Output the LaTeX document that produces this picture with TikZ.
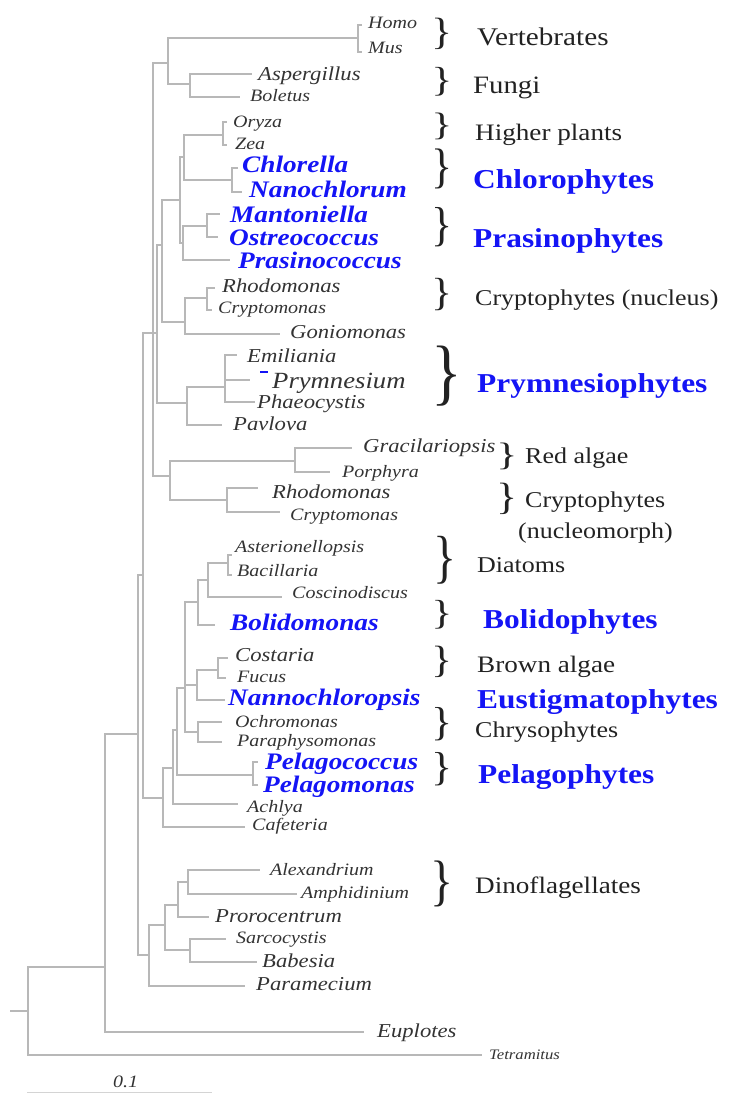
\documentclass[tikz,border=0pt]{standalone}
\usepackage{fontspec}
\setmainfont{Liberation Serif}
\usepackage{graphicx}
\definecolor{linegray}{HTML}{B8B8B8}
\definecolor{taxgray}{HTML}{333333}
\definecolor{grpblack}{HTML}{222222}
\definecolor{myblue}{RGB}{20,20,245}
\definecolor{scalegray}{HTML}{D4D4D4}
\newcommand\sx[1]{\scalebox{1.15}[1]{#1}}
\newcommand\brc[2]{\scalebox{#1}[#2]{\}}}
\begin{document}
\begin{tikzpicture}[x=1pt,y=-1pt,
  tree/.style={draw=linegray, line width=1.1pt},
  taxS/.style={anchor=base west, inner sep=0, text=taxgray, font=\fontsize{17.4}{18}\selectfont\itshape},
  taxL/.style={anchor=base west, inner sep=0, text=taxgray, font=\fontsize{19.7}{20}\selectfont\itshape},
  taxB/.style={anchor=base west, inner sep=0, text=myblue, font=\fontsize{23.7}{24}\selectfont\bfseries\itshape},
  grp/.style={anchor=base west, inner sep=0, text=grpblack, font=\fontsize{23.6}{24}\selectfont},
  grpS/.style={anchor=base west, inner sep=0, text=grpblack, font=\fontsize{22.6}{23}\selectfont},
  grpB/.style={anchor=base west, inner sep=0, text=myblue, font=\fontsize{27.3}{28}\selectfont\bfseries},
  brace/.style={anchor=center, inner sep=0, text=grpblack, font=\fontsize{40}{40}\selectfont}]
\useasboundingbox (0,0) rectangle (738,1095);

% ---------- internal nodes ----------
\coordinate (stub) at (10,1011);
\coordinate (R) at (28,1011);
\coordinate (A) at (105,967);
\coordinate (B) at (138,734);
\coordinate (C) at (143,575);
\coordinate (E) at (153,333);
\coordinate (VF) at (168,63);
\coordinate (V) at (358,38);
\coordinate (F) at (190,84);
\coordinate (P) at (157,333);
\coordinate (GC) at (162,245);
\coordinate (GR) at (180,200);
\coordinate (PC) at (184,157);
\coordinate (HP) at (223,135);
\coordinate (CH) at (232,180);
\coordinate (PRA) at (183,243);
\coordinate (MO) at (207,226);
\coordinate (CN) at (185,322);
\coordinate (RCN) at (207,298);
\coordinate (PR) at (187,403);
\coordinate (EPP) at (225,387);
\coordinate (RC) at (170,476);
\coordinate (RED) at (295,461);
\coordinate (CRN) at (227,500);
\coordinate (S) at (163,798);
\coordinate (H) at (173,768);
\coordinate (I) at (177,730);
\coordinate (J) at (185,688);
\coordinate (DB) at (198,602);
\coordinate (DT) at (208,580);
\coordinate (AB) at (228,563);
\coordinate (BN) at (197,685);
\coordinate (CF) at (218,670);
\coordinate (CHR) at (198,732);
\coordinate (PEL) at (253,775);
\coordinate (D) at (149,955);
\coordinate (D2) at (165,925);
\coordinate (D3) at (178,905);
\coordinate (AA) at (188,882);
\coordinate (SB) at (190,950);

% ---------- tips ----------
\coordinate (tHomo) at (362,25);
\coordinate (tMus) at (362,52);
\coordinate (tAsp) at (252,74);
\coordinate (tBol) at (240,97);
\coordinate (tOry) at (227,122);
\coordinate (tZea) at (227,145);
\coordinate (tChl) at (238,168);
\coordinate (tNan) at (242,192);
\coordinate (tMan) at (220,214);
\coordinate (tOst) at (218,237);
\coordinate (tPra) at (230,260);
\coordinate (tRhoA) at (215,288);
\coordinate (tCryA) at (212,310);
\coordinate (tGon) at (280,334);
\coordinate (tEmi) at (237,355);
\coordinate (tPry) at (250,380);
\coordinate (tPha) at (255,402);
\coordinate (tPav) at (222,425);
\coordinate (tGra) at (352,448);
\coordinate (tPor) at (330,472);
\coordinate (tRhoB) at (258,488);
\coordinate (tCryB) at (280,512);
\coordinate (tAst) at (232,555);
\coordinate (tBac) at (232,575);
\coordinate (tCos) at (282,597);
\coordinate (tBoli) at (215,625);
\coordinate (tCost) at (228,658);
\coordinate (tFuc) at (226,678);
\coordinate (tNann) at (225,700);
\coordinate (tOch) at (222,722);
\coordinate (tPar) at (222,742);
\coordinate (tPelc) at (258,762);
\coordinate (tPelm) at (258,785);
\coordinate (tAch) at (238,804);
\coordinate (tCaf) at (245,827);
\coordinate (tAle) at (260,870);
\coordinate (tAmp) at (297,894);
\coordinate (tPro) at (209,917);
\coordinate (tSar) at (226,939);
\coordinate (tBab) at (257,962);
\coordinate (tPam) at (245,986);
\coordinate (tEup) at (364,1032);
\coordinate (tTet) at (482,1055);

% ---------- branches ----------
\draw[tree] (stub) -- (R);
\draw[tree] (R) |- (A);  \draw[tree] (R) |- (tTet);
\draw[tree] (A) |- (B);  \draw[tree] (A) |- (tEup);
\draw[tree] (B) |- (C);  \draw[tree] (B) |- (D);
\draw[tree] (C) |- (E);  \draw[tree] (C) |- (S);
\draw[tree] (E) |- (VF); \draw[tree] (E) |- (P); \draw[tree] (E) |- (RC);
\draw[tree] (VF) |- (V); \draw[tree] (VF) |- (F);
\draw[tree] (V) |- (tHomo); \draw[tree] (V) |- (tMus);
\draw[tree] (F) |- (tAsp); \draw[tree] (F) |- (tBol);
\draw[tree] (P) |- (GC); \draw[tree] (P) |- (PR);
\draw[tree] (GC) |- (GR); \draw[tree] (GC) |- (CN);
\draw[tree] (GR) |- (PC); \draw[tree] (GR) |- (PRA);
\draw[tree] (PC) |- (HP); \draw[tree] (PC) |- (CH);
\draw[tree] (HP) |- (tOry); \draw[tree] (HP) |- (tZea);
\draw[tree] (CH) |- (tChl); \draw[tree] (CH) |- (tNan);
\draw[tree] (PRA) |- (MO); \draw[tree] (PRA) |- (tPra);
\draw[tree] (MO) |- (tMan); \draw[tree] (MO) |- (tOst);
\draw[tree] (CN) |- (RCN); \draw[tree] (CN) |- (tGon);
\draw[tree] (RCN) |- (tRhoA); \draw[tree] (RCN) |- (tCryA);
\draw[tree] (PR) |- (EPP); \draw[tree] (PR) |- (tPav);
\draw[tree] (EPP) |- (tEmi); \draw[tree] (EPP) |- (tPry); \draw[tree] (EPP) |- (tPha);
\draw[tree] (RC) |- (RED); \draw[tree] (RC) |- (CRN);
\draw[tree] (RED) |- (tGra); \draw[tree] (RED) |- (tPor);
\draw[tree] (CRN) |- (tRhoB); \draw[tree] (CRN) |- (tCryB);
\draw[tree] (S) |- (H); \draw[tree] (S) |- (tCaf);
\draw[tree] (H) |- (I); \draw[tree] (H) |- (tAch);
\draw[tree] (I) |- (J); \draw[tree] (I) |- (PEL);
\draw[tree] (J) |- (DB); \draw[tree] (J) |- (BN); \draw[tree] (J) |- (CHR);
\draw[tree] (DB) |- (DT); \draw[tree] (DB) |- (tBoli);
\draw[tree] (DT) |- (AB); \draw[tree] (DT) |- (tCos);
\draw[tree] (AB) |- (tAst); \draw[tree] (AB) |- (tBac);
\draw[tree] (BN) |- (CF); \draw[tree] (BN) |- (tNann);
\draw[tree] (CF) |- (tCost); \draw[tree] (CF) |- (tFuc);
\draw[tree] (CHR) |- (tOch); \draw[tree] (CHR) |- (tPar);
\draw[tree] (PEL) |- (tPelc); \draw[tree] (PEL) |- (tPelm);
\draw[tree] (D) |- (D2); \draw[tree] (D) |- (tPam);
\draw[tree] (D2) |- (D3); \draw[tree] (D2) |- (SB);
\draw[tree] (D3) |- (AA); \draw[tree] (D3) |- (tPro);
\draw[tree] (AA) |- (tAle); \draw[tree] (AA) |- (tAmp);
\draw[tree] (SB) |- (tSar); \draw[tree] (SB) |- (tBab);

% ---------- taxon labels ----------
\node[taxS] (lHomo) at (368,28) {\sx{Homo}};
\node[taxS] (lMus) at (368,53) {\sx{Mus}};
\node[taxL] (lAsp) at (258,80) {\sx{Aspergillus}};
\node[taxS] (lBol) at (250,101) {\sx{Boletus}};
\node[taxS] (lOry) at (233,127) {\sx{Oryza}};
\node[taxS] (lZea) at (235,149) {\sx{Zea}};
\node[taxB] (lChl) at (242,172) {\sx{Chlorella}};
\node[taxB] (lNan) at (249,197) {\sx{Nanochlorum}};
\node[taxB] (lMan) at (230,222) {\sx{Mantoniella}};
\node[taxB] (lOst) at (229,245) {\sx{Ostreococcus}};
\node[taxB] (lPra) at (238,268) {\sx{Prasinococcus}};
\node[taxL] (lRhoA) at (222,292) {\sx{Rhodomonas}};
\node[taxS] (lCryA) at (218,313) {\sx{Cryptomonas}};
\node[taxL] (lGon) at (290,338) {\sx{Goniomonas}};
\node[taxL] (lEmi) at (247,362) {\sx{Emiliania}};
\node[anchor=base west, inner sep=0, text=taxgray, font=\fontsize{23.2}{24}\selectfont\itshape] (lPry) at (272,388) {\sx{Prymnesium}};
\coordinate (dash1) at (260,372);
\coordinate (dash2) at (268,372);
\draw[myblue, line width=1.6pt] (dash1) -- (dash2);
\node[taxL] (lPha) at (257,408) {\sx{Phaeocystis}};
\node[taxL] (lPav) at (233,430) {\sx{Pavlova}};
\node[taxL] (lGra) at (363,452) {\sx{Gracilariopsis}};
\node[taxS] (lPor) at (342,477) {\sx{Porphyra}};
\node[taxL] (lRhoB) at (272,498) {\sx{Rhodomonas}};
\node[taxS] (lCryB) at (290,520) {\sx{Cryptomonas}};
\node[taxS] (lAst) at (235,552) {\sx{Asterionellopsis}};
\node[taxS] (lBac) at (237,576) {\sx{Bacillaria}};
\node[taxS] (lCos) at (292,598) {\sx{Coscinodiscus}};
\node[taxB] (lBoli) at (230,630) {\sx{Bolidomonas}};
\node[taxL] (lCost) at (235,661) {\sx{Costaria}};
\node[taxS] (lFuc) at (237,682) {\sx{Fucus}};
\node[taxB] (lNann) at (228,705) {\sx{Nannochloropsis}};
\node[taxS] (lOch) at (235,727) {\sx{Ochromonas}};
\node[taxS] (lPar) at (237,746) {\sx{Paraphysomonas}};
\node[taxB] (lPelc) at (265,769) {\sx{Pelagococcus}};
\node[taxB] (lPelm) at (263,792) {\sx{Pelagomonas}};
\node[taxS] (lAch) at (247,812) {\sx{Achlya}};
\node[taxS] (lCaf) at (252,830) {\sx{Cafeteria}};
\node[taxS] (lAle) at (270,875) {\sx{Alexandrium}};
\node[taxS] (lAmp) at (301,898) {\sx{Amphidinium}};
\node[taxL] (lPro) at (215,922) {\sx{Prorocentrum}};
\node[taxS] (lSar) at (236,943) {\sx{Sarcocystis}};
\node[taxL] (lBab) at (262,967) {\sx{Babesia}};
\node[taxL] (lPam) at (256,990) {\sx{Paramecium}};
\node[taxL] (lEup) at (377,1037) {\sx{Euplotes}};
\node[anchor=base west, inner sep=0, text=taxgray, font=\fontsize{14.5}{15}\selectfont\itshape] (lTet) at (489,1059) {\sx{Tetramitus}};

% ---------- scale bar ----------
\coordinate (sb1) at (27,1092);
\coordinate (sb2) at (212,1092);
\draw[scalegray, line width=0.8pt] (sb1) -- (sb2);
\node[taxS] (lScale) at (113,1087) {\sx{0.1}};

% ---------- braces ----------
\node[brace] (bVer) at (442,33.5) {\brc{1.1}{0.95}};
\node[brace] (bFun) at (442,82) {\brc{1.1}{0.87}};
\node[brace] (bHig) at (442,126) {\brc{1.1}{0.81}};
\node[brace] (bChl) at (442,169) {\brc{1.1}{1.21}};
\node[brace] (bPra) at (442,227.5) {\brc{1.1}{1.19}};
\node[brace] (bCrN) at (442,295) {\brc{1.1}{0.98}};
\node[brace] (bPry) at (447,376.5) {\brc{1.6}{1.82}};
\node[brace] (bRed) at (507,456) {\brc{1.1}{0.81}};
\node[brace] (bCrM) at (507,498.5) {\brc{1.1}{0.95}};
\node[brace] (bDia) at (445,560) {\brc{1.2}{1.45}};
\node[brace] (bBol) at (442,615) {\brc{1.1}{0.87}};
\node[brace] (bBro) at (442,661.5) {\brc{1.1}{0.95}};
\node[brace] (bChr) at (442,724.5) {\brc{1.1}{1.01}};
\node[brace] (bPel) at (442,769.5) {\brc{1.1}{1.01}};
\node[brace] (bDin) at (442,884) {\brc{1.2}{1.39}};

% ---------- group labels ----------
\node[grp, font=\fontsize{25.4}{26}\selectfont] (gVer) at (477,45) {\sx{Vertebrates}};
\node[grp, font=\fontsize{25}{26}\selectfont] (gFun) at (473,93) {\sx{Fungi}};
\node[grp] (gHig) at (475,140) {\sx{Higher plants}};
\node[grpB] (gChl) at (473,188) {\sx{Chlorophytes}};
\node[grpB] (gPra) at (473,247) {\sx{Prasinophytes}};
\node[grpS] (gCrN) at (475,305) {\sx{Cryptophytes (nucleus)}};
\node[grpB] (gPry) at (477,392) {\sx{Prymnesiophytes}};
\node[grpS] (gRed) at (525,463) {\sx{Red algae}};
\node[grpS] (gCrM) at (525,507) {\sx{Cryptophytes}};
\node[grpS] (gCrM2) at (518,538) {\sx{(nucleomorph)}};
\node[grpS] (gDia) at (477,572) {\sx{Diatoms}};
\node[grpB] (gBol) at (483,628) {\sx{Bolidophytes}};
\node[grp] (gBro) at (477,672) {\sx{Brown algae}};
\node[grpB] (gEus) at (477,708) {\sx{Eustigmatophytes}};
\node[grpS] (gChr) at (475,737) {\sx{Chrysophytes}};
\node[grpB] (gPel) at (478,783) {\sx{Pelagophytes}};
\node[grp] (gDin) at (475,893) {\sx{Dinoflagellates}};
\end{tikzpicture}
\end{document}
